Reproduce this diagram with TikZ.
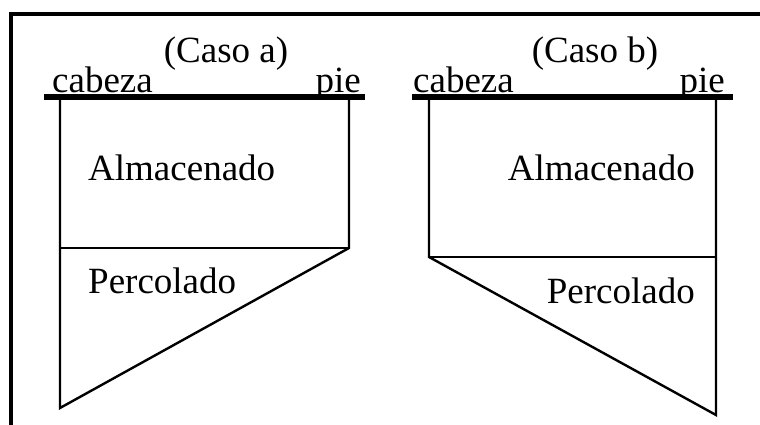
\documentclass[tikz,border=0pt]{standalone}
\usepackage{fontspec}
\setmainfont{Liberation Serif}
\usetikzlibrary{positioning,calc}

\begin{document}
\begin{tikzpicture}[
    x=1pt,y=-1pt,
    label/.style={inner sep=0pt,font=\fontsize{37}{40}\selectfont},
    frame/.style={line width=4pt},
    bar/.style={line width=6pt},
    outline/.style={line width=2.4pt,line join=miter}
]
\useasboundingbox (0,0) rectangle (760,425);
% marco
\coordinate (fbl) at (11,425);
\coordinate (ftl) at (11,14);
\coordinate (ftr) at (760,14);
\draw[frame] (fbl) -- (ftl) -- (ftr);
% caso a
\coordinate (abl) at (44,97);
\coordinate (abr) at (365,97);
\coordinate (ahead) at (60,97);
\coordinate (afoot) at (349,97);
\coordinate (amidl) at (60,248);
\coordinate (amidr) at (349,248);
\coordinate (atip) at (60,408);
\draw[outline] (ahead) -- (atip) -- (amidr) -- (afoot);
\draw[outline] (amidl) -- (amidr);
\draw[bar] (abl) -- (abr);
\node[label,anchor=base] (casoa) at (226,63) {(Caso a)};
\node[label,anchor=base west] (cabezaa) at (52,93) {cabeza};
\node[label,anchor=base east] (piea) at (361,93) {pie};
\node[label,anchor=base west] (alma) at (88,180) {Almacenado};
\node[label,anchor=base west] (perca) at (88,293) {Percolado};
% caso b
\coordinate (bbl) at (412,97);
\coordinate (bbr) at (733,97);
\coordinate (bhead) at (429,97);
\coordinate (bfoot) at (716,97);
\coordinate (bmidl) at (429,257);
\coordinate (bmidr) at (716,257);
\coordinate (btip) at (716,415);
\draw[outline] (bhead) -- (bmidl) -- (btip) -- (bfoot);
\draw[outline] (bmidl) -- (bmidr);
\draw[bar] (bbl) -- (bbr);
\node[label,anchor=base] (casob) at (595,63) {(Caso b)};
\node[label,anchor=base west] (cabezab) at (413,93) {cabeza};
\node[label,anchor=base east] (pieb) at (725,93) {pie};
\node[label,anchor=base east] (almb) at (695,180) {Almacenado};
\node[label,anchor=base east] (percb) at (695,303) {Percolado};
\end{tikzpicture}
\end{document}
